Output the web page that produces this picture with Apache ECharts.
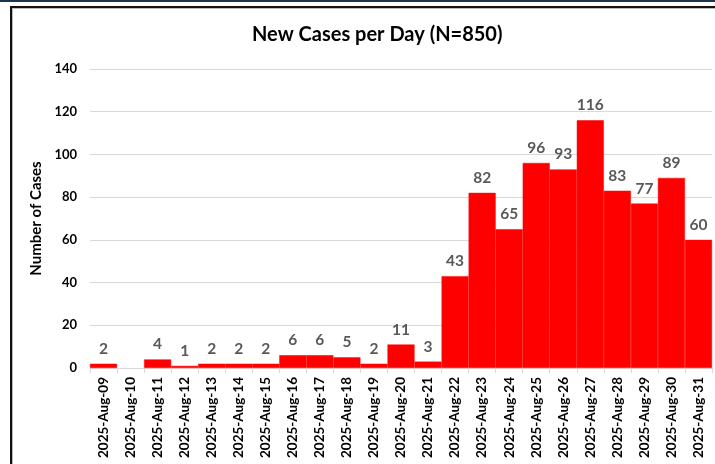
<!DOCTYPE html>
<html>
<head>
<meta charset="utf-8">
<script src="https://cdn.jsdelivr.net/npm/echarts@6/dist/echarts.min.js"></script>
<style>
html,body{margin:0;padding:0;background:#fff;}
#c{width:715px;height:464px;}
</style>
</head>
<body>
<div id="c"></div>
<script>
const categories = ["2025-Aug-09","2025-Aug-10","2025-Aug-11","2025-Aug-12","2025-Aug-13","2025-Aug-14","2025-Aug-15","2025-Aug-16","2025-Aug-17","2025-Aug-18","2025-Aug-19","2025-Aug-20","2025-Aug-21","2025-Aug-22","2025-Aug-23","2025-Aug-24","2025-Aug-25","2025-Aug-26","2025-Aug-27","2025-Aug-28","2025-Aug-29","2025-Aug-30","2025-Aug-31"];
const newCases = [2,0,4,1,2,2,2,6,6,5,2,11,3,43,82,65,96,93,116,83,77,89,60];
const titleText = "New Cases per Day (N=850)";
const yAxisName = "Number of Cases";

const FONT = "Lato";
const barData = newCases.map(v => v === 0 ? {value: v, itemStyle: {borderWidth: 0}} : v);
const chart = echarts.init(document.getElementById('c'));
chart.setOption({
  animation: false,
  backgroundColor: '#fff',
  textStyle: {fontFamily: FONT},
  title: {
    text: titleText,
    left: 247,
    top: 20,
    textStyle: {fontFamily: FONT, fontSize: 20, fontWeight: 'bold', color: '#000'}
  },
  graphic: [
    {type:'rect', shape:{x:0,y:0,width:715,height:2}, style:{fill:'#1c3450'}},
    {type:'rect', shape:{x:10,y:6,width:705,height:2}, style:{fill:'#111'}},
    {type:'rect', shape:{x:10,y:6,width:2,height:458}, style:{fill:'#111'}},
    {type:'rect', shape:{x:12,y:8,width:703,height:1}, style:{fill:'#bbb'}},
    {type:'rect', shape:{x:12,y:8,width:1,height:456}, style:{fill:'#bbb'}}
  ],
  grid: {left: 90, right: 3, top: 69, bottom: 96},
  xAxis: {
    type: 'category',
    data: categories,
    axisLine: {lineStyle: {color: '#d9d9d9'}},
    axisTick: {show: true, length: 5, lineStyle: {color: '#d9d9d9'}},
    axisLabel: {rotate: 90, interval: 0, margin: 9, fontFamily: FONT, fontSize: 13.5, fontWeight: 'bold', color: '#000'}
  },
  yAxis: {
    type: 'value',
    min: 0, max: 140, interval: 20,
    name: yAxisName,
    nameLocation: 'middle',
    nameGap: 44,
    nameTextStyle: {fontFamily: FONT, fontSize: 15, fontWeight: 'bold', color: '#000'},
    axisLine: {show: false},
    axisTick: {show: false},
    axisLabel: {margin: 13, fontFamily: FONT, fontSize: 13, fontWeight: 'bold', color: '#000'},
    splitLine: {lineStyle: {color: '#d9d9d9', width: 1}}
  },
  series: [{
    type: 'bar',
    data: barData,
    barCategoryGap: '0%',
    itemStyle: {color: '#ff0000', borderColor: '#ff0000', borderWidth: 0.5},
    label: {
      show: true,
      position: 'top',
      distance: 7,
      fontFamily: FONT,
      fontSize: 15.5,
      fontWeight: 'bold',
      color: '#595959',
      formatter: p => p.value === 0 ? '' : String(p.value)
    }
  }]
});
</script>
</body>
</html>
